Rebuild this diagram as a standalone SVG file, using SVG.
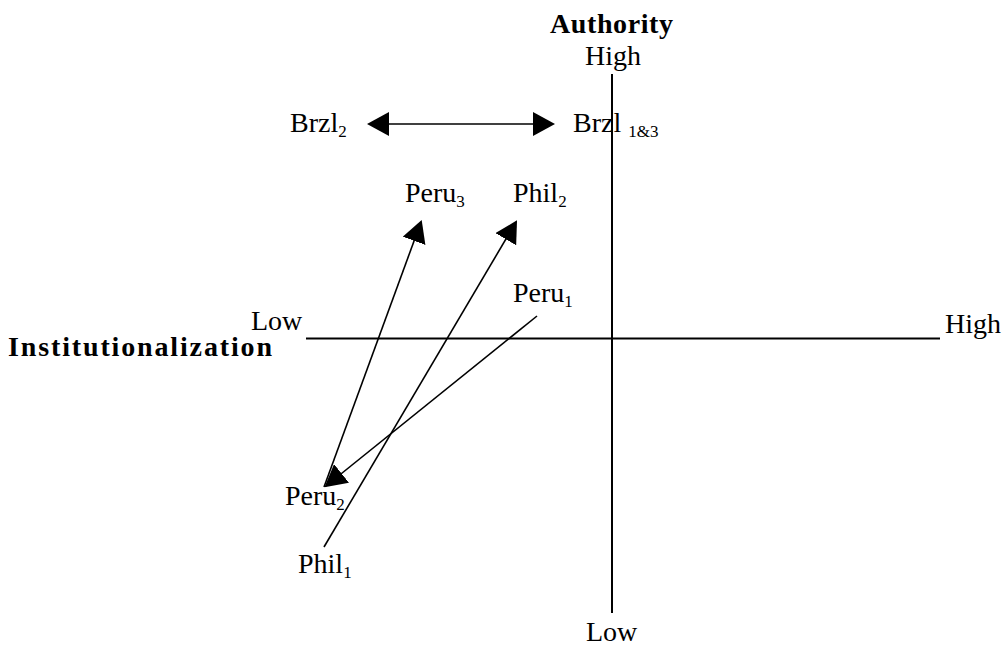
<svg xmlns="http://www.w3.org/2000/svg" width="1003" height="646" viewBox="0 0 1003 646">
<style>
text{font-family:"Liberation Serif","Times New Roman",serif;font-size:28px;fill:#000}
.b{font-weight:bold}
.s{font-size:17px}
.axis{stroke:#000;stroke-width:2;fill:none}
.c{stroke:#000;stroke-width:1.6;fill:none}
</style>
<defs>
<marker id="ah" markerUnits="userSpaceOnUse" markerWidth="22" markerHeight="24" viewBox="0 0 22 24" refX="20" refY="12" orient="auto-start-reverse">
<path d="M0,0 L22,12 L0,24 Z" fill="#000"/>
</marker>
</defs>
<rect width="1003" height="646" fill="#fff"/>
<g id="axes">
<line class="axis" x1="612" y1="74" x2="612" y2="613"/>
<line class="axis" x1="306" y1="338.5" x2="940" y2="338.5"/>
<text class="b" x="550" y="33" textLength="123" font-size="29">Authority</text>
<text x="585" y="65">High</text>
<text x="586" y="641">Low</text>
<text x="251" y="330">Low</text>
<text x="945" y="333">High</text>
<text class="b" x="8" y="356" font-size="28" textLength="264">Institutionalization</text>
</g>
<g id="brzl2"><text x="290" y="132">Brzl<tspan class="s" dy="5">2</tspan></text></g>
<g id="brzl13"><text x="573" y="132">Brzl <tspan class="s" dy="5">1&amp;3</tspan></text></g>
<g id="peru3"><text x="405" y="202">Peru<tspan class="s" dy="5">3</tspan></text></g>
<g id="phil2"><text x="513" y="202">Phil<tspan class="s" dy="5">2</tspan></text></g>
<g id="peru1"><text x="513" y="302">Peru<tspan class="s" dy="5">1</tspan></text></g>
<g id="peru2"><text x="285" y="505">Peru<tspan class="s" dy="5">2</tspan></text></g>
<g id="phil1"><text x="298" y="573">Phil<tspan class="s" dy="5">1</tspan></text></g>
<g id="connectors">
<line class="c" x1="369" y1="124" x2="553" y2="124" marker-start="url(#ah)" marker-end="url(#ah)"/>
<line class="c" x1="324" y1="487" x2="421" y2="222" marker-end="url(#ah)"/>
<line class="c" x1="324" y1="547" x2="516" y2="222" marker-end="url(#ah)"/>
<line class="c" x1="537" y1="316" x2="326" y2="486" marker-end="url(#ah)"/>
</g>
</svg>
